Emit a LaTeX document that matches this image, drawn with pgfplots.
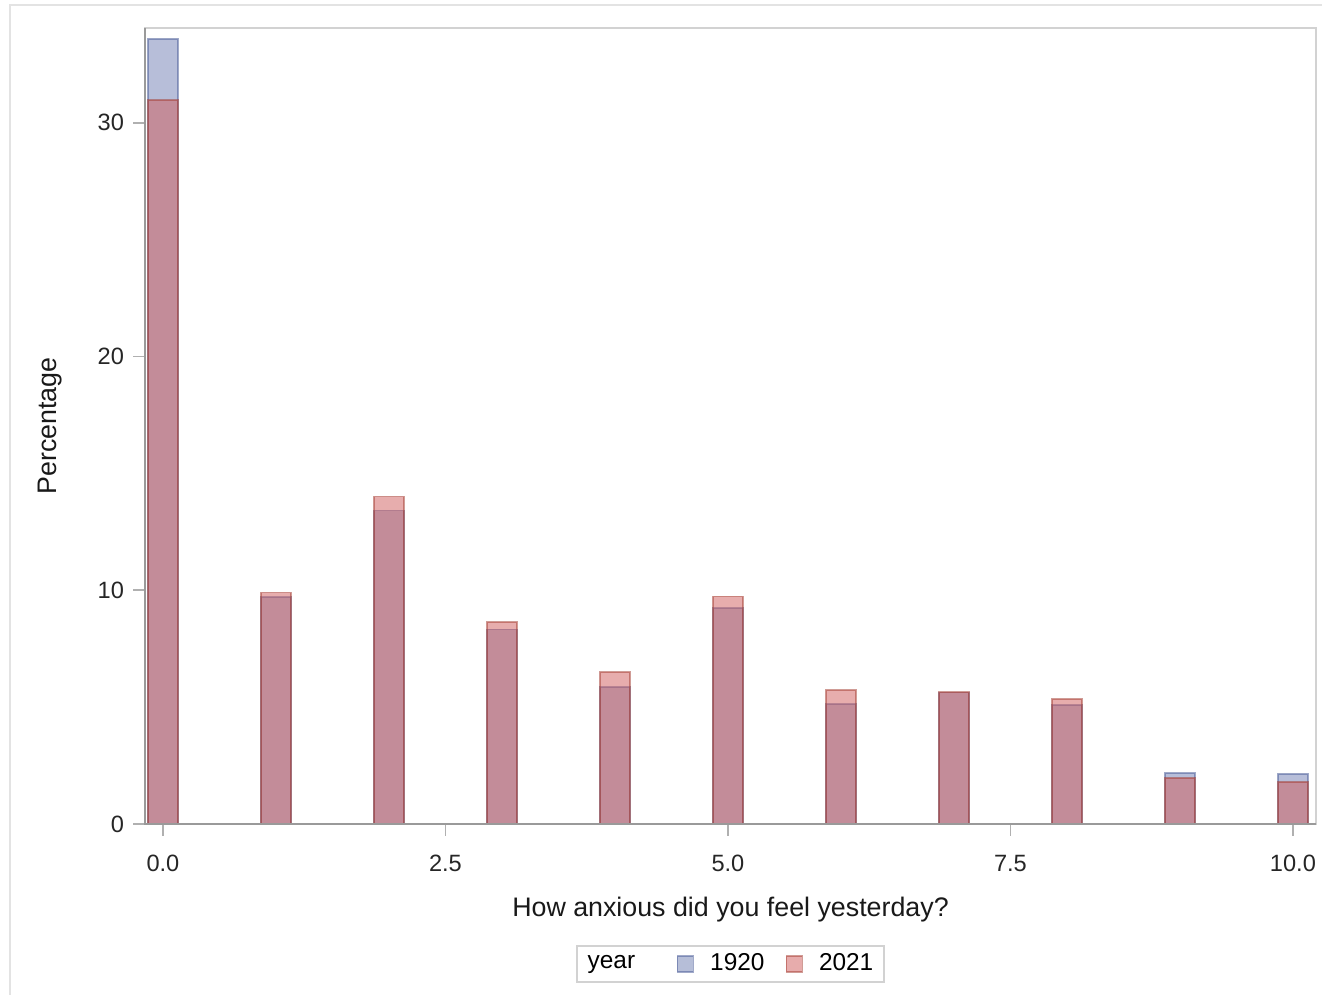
\documentclass[border=0pt]{standalone}
\usepackage{pgfplots}
\pgfplotsset{compat=1.18}
\usepackage{fontspec}
\setmainfont{Liberation Sans}

\definecolor{sasblue}{HTML}{6F7EB3}
\definecolor{sasred}{HTML}{D05B5B}
\definecolor{sasblueline}{HTML}{445694}
\definecolor{sasredline}{HTML}{A23A2E}
\definecolor{framegray}{HTML}{E3E3E3}
\definecolor{spinegray}{HTML}{9A9A9A}
\definecolor{wallgray}{HTML}{D2D2D2}
\definecolor{tickgray}{HTML}{B0B0B0}

\begin{document}
\begin{tikzpicture}[x=1pt,y=1pt]
\useasboundingbox (0,0) rectangle (661,497.5);
% outer graph frame
\draw[framegray, line width=1pt] (5,0) -- (5,495) -- (661,495);
\begin{axis}[
  at={(72.5pt,85.5pt)}, anchor=south west,
  scale only axis, width=585.5pt, height=398pt,
  xmin=-0.159, xmax=10.204, ymin=0, ymax=34.05,
  enlargelimits=false,
  ybar, bar width=0.265, bar shift=0pt,
  xtick={0,2.5,5,7.5,10},
  xticklabels={0.0,2.5,5.0,7.5,10.0},
  ytick={0,10,20,30},
  xtick pos=bottom, ytick pos=left,
  tick align=outside, major tick length=6pt,
  tick style={tickgray, line width=0.9pt},
  axis line style={wallgray, line width=0.9pt},
  /pgf/number format/assume math mode=true,
  tick label style={font=\fontsize{11.8}{14}\selectfont, text=black!85},
  xticklabel style={yshift=-6pt},
  yticklabel style={xshift=-1pt},
  xlabel={How anxious did you feel yesterday?},
  ylabel={Percentage},
  label style={font=\fontsize{13.4}{16}\selectfont, text=black!90},
  xlabel style={at={(axis description cs:0.5,-0.1075)}, anchor=center},
  ylabel style={at={(axis description cs:-0.081,0.5)}, anchor=center},
  legend columns=3,
  legend style={at={(axis description cs:0.5,-0.152)}, anchor=north,
    draw=wallgray, line width=0.9pt, font=\fontsize{12.2}{14}\selectfont,
    inner xsep=3.5pt, inner ysep=2pt,
    /tikz/every even column/.append style={column sep=8.5pt}},
  legend image code/.code={%
    \draw[#1, line width=0.75pt] (0pt,-4pt) rectangle (8pt,4pt);
    \path (14pt,0pt);},
  after end axis/.code={
    \draw[spinegray, line width=0.9pt] (rel axis cs:0,1) -- (rel axis cs:0,0) -- (rel axis cs:1,0);
  },
]
\addlegendimage{empty legend}
\addlegendentry{\makebox[34pt][l]{year}}

% 1920
\addplot[fill=sasblue, fill opacity=0.5, draw=sasblueline, draw opacity=0.5, line width=0.75pt]
  coordinates {(0,33.58) (1,9.70) (2,13.40) (3,8.33) (4,5.85) (5,9.23)
               (6,5.13) (7,5.62) (8,5.09) (9,2.18) (10,2.14)};
\addlegendentry{1920}

% 2021
\addplot[fill=sasred, fill opacity=0.5, draw=sasredline, draw opacity=0.5, line width=0.75pt]
  coordinates {(0,30.96) (1,9.90) (2,14.00) (3,8.63) (4,6.50) (5,9.74)
               (6,5.73) (7,5.64) (8,5.34) (9,1.97) (10,1.80)};
\addlegendentry{2021}
\end{axis}
\end{tikzpicture}
\end{document}
